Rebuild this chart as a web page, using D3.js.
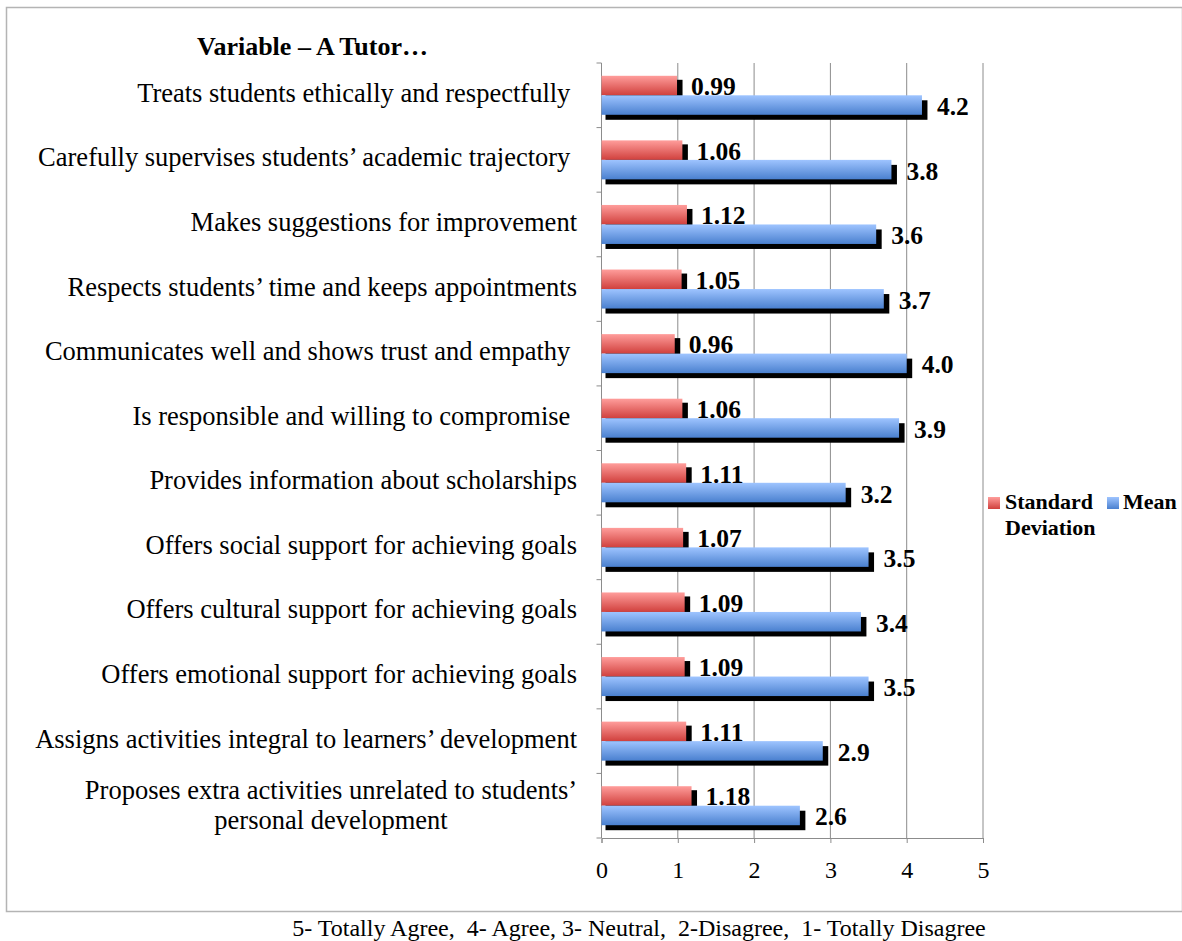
<!DOCTYPE html>
<html>
<head>
<meta charset="utf-8">
<script src="https://cdn.jsdelivr.net/npm/d3@7"></script>
<style>
  body { margin: 0; background: #fff; }
  text { font-family: "Liberation Serif", "Times New Roman", serif; white-space: pre; }
</style>
</head>
<body>
<div id="chart"></div>
<script>
// tutor evaluation chart

const width = 1182;
const height = 941;

const categories = [
  "Treats students ethically and respectfully ",
  "Carefully supervises students’ academic trajectory ",
  "Makes suggestions for improvement",
  "Respects students’ time and keeps appointments",
  "Communicates well and shows trust and empathy ",
  "Is responsible and willing to compromise ",
  "Provides information about scholarships",
  "Offers social support for achieving goals",
  "Offers cultural support for achieving goals",
  "Offers emotional support for achieving goals",
  "Assigns activities integral to learners’ development",
  "Proposes extra activities unrelated to students’|personal development"
];
const sdValues = [0.99, 1.06, 1.12, 1.05, 0.96, 1.06, 1.11, 1.07, 1.09, 1.09, 1.11, 1.18];
const sdLabels = ["0.99", "1.06", "1.12", "1.05", "0.96", "1.06", "1.11", "1.07", "1.09", "1.09", "1.11", "1.18"];
const meanValues = [4.2, 3.8, 3.6, 3.7, 4.0, 3.9, 3.2, 3.5, 3.4, 3.5, 2.9, 2.6];
const meanLabels = ["4.2", "3.8", "3.6", "3.7", "4.0", "3.9", "3.2", "3.5", "3.4", "3.5", "2.9", "2.6"];
const xTicks = [0, 1, 2, 3, 4, 5];

const svg = d3.select("#chart")
  .append("svg")
  .attr("width", width)
  .attr("height", height);

// gradients for bars
const defs = svg.append("defs");
function addGradient(id, top, bottom) {
  const g = defs.append("linearGradient")
    .attr("id", id)
    .attr("x1", 0).attr("y1", 0).attr("x2", 0).attr("y2", 1);
  g.append("stop").attr("offset", "0%").attr("stop-color", top);
  g.append("stop").attr("offset", "100%").attr("stop-color", bottom);
}
addGradient("gradSD", "#ff9d9b", "#d0403d");
addGradient("gradMean", "#9ec4ff", "#4a80cf");

// outer frame
svg.append("rect")
  .attr("x", 6.5).attr("y", 7.5)
  .attr("width", 1176).attr("height", 904)
  .attr("fill", "none")
  .attr("stroke", "#b4b4b4")
  .attr("stroke-width", 1.5);

const x = d3.scaleLinear().domain([0, 5]).range([601.5, 983]);
const y = d3.scaleBand().domain(d3.range(categories.length)).range([63, 838]);
const barH = 19.5;
const off = (y.bandwidth() - 2 * barH) / 2;

// gridlines
svg.append("g")
  .selectAll("line")
  .data(xTicks.slice(1))
  .enter()
  .append("line")
  .attr("x1", d => x(d)).attr("x2", d => x(d))
  .attr("y1", 63).attr("y2", 838)
  .attr("stroke", "#8c8c8c")
  .attr("stroke-width", 1);

// bottom axis
const xAxis = svg.append("g")
  .attr("transform", "translate(0,838)")
  .call(d3.axisBottom(x).tickValues(xTicks).tickFormat(d3.format("d")).tickSize(5).tickPadding(18));
xAxis.select(".domain").attr("stroke", "#8c8c8c");
xAxis.selectAll(".tick line").attr("stroke", "#8c8c8c");
xAxis.selectAll("text")
  .attr("font-size", "24px")
  .attr("font-family", "Liberation Serif, serif")
  .attr("fill", "#000");

// left axis line with band ticks
svg.append("line")
  .attr("x1", x(0)).attr("x2", x(0))
  .attr("y1", 63).attr("y2", 838)
  .attr("stroke", "#8c8c8c");
svg.append("g")
  .selectAll("line")
  .data(d3.range(categories.length + 1))
  .enter()
  .append("line")
  .attr("x1", x(0) - 5).attr("x2", x(0))
  .attr("y1", d => 63 + d * y.bandwidth())
  .attr("y2", d => 63 + d * y.bandwidth())
  .attr("stroke", "#8c8c8c");

// bar groups
const rows = categories.map((c, i) => ({i: i, sd: sdValues[i], mean: meanValues[i]}));

const groups = svg.append("g")
  .selectAll("g")
  .data(rows)
  .enter()
  .append("g");

// shadows first
groups.append("rect")
  .attr("x", x(0) + 4)
  .attr("y", d => y(d.i) + off + 4)
  .attr("width", d => x(d.sd) - x(0) + 1.5)
  .attr("height", barH)
  .attr("fill", "#000");
groups.append("rect")
  .attr("x", d => x(0) + 4)
  .attr("y", d => y(d.i) + off + barH + 5)
  .attr("width", d => x(d.mean) - x(0) + 1.5)
  .attr("height", barH)
  .attr("fill", "#000");

groups.append("rect")
  .attr("x", x(0))
  .attr("y", d => y(d.i) + off)
  .attr("width", d => x(d.sd) - x(0))
  .attr("height", barH)
  .attr("fill", "url(#gradSD)");
groups.append("rect")
  .attr("x", x(0))
  .attr("y", d => y(d.i) + off + barH)
  .attr("width", d => x(d.mean) - x(0))
  .attr("height", barH)
  .attr("fill", "url(#gradMean)");

// value labels
groups.append("text")
  .attr("x", d => x(d.sd) + 14)
  .attr("y", d => y(d.i) + off + barH / 2 + 9.5)
  .attr("font-size", "25.5px")
  .attr("font-weight", "bold")
  .text(d => sdLabels[d.i]);
groups.append("text")
  .attr("x", d => x(d.mean) + 15)
  .attr("y", d => y(d.i) + off + barH * 1.5 + 10)
  .attr("font-size", "25.5px")
  .attr("font-weight", "bold")
  .text(d => meanLabels[d.i]);

// category labels
const catText = svg.append("g")
  .selectAll("text")
  .data(categories)
  .enter()
  .append("text")
  .attr("text-anchor", d => d.includes("|") ? "middle" : "end")
  .attr("x", d => d.includes("|") ? 331 : 577)
  .attr("y", (d, i) => y(i) + y.bandwidth() / 2 + 6.5)
  .attr("font-size", "26.5px")
  .attr("fill", "#000");
catText.each(function(d, i) {
  const parts = d.split("|");
  const t = d3.select(this);
  if (parts.length === 1) { t.text(d); return; }
  t.attr("y", y(i) + y.bandwidth() / 2 - 7);
  parts.forEach((p, k) => {
    t.append("tspan")
      .attr("x", 331)
      .attr("dy", k === 0 ? 0 : 30)
      .text(p);
  });
});

// axis title
svg.append("text")
  .attr("x", 197).attr("y", 55)
  .attr("font-size", "26px")
  .attr("font-weight", "bold")
  .text("Variable – A Tutor…");

// legend
const legend = svg.append("g").attr("font-size", "22px").attr("font-weight", "bold");
legend.append("rect").attr("x", 988).attr("y", 497).attr("width", 12).attr("height", 12).attr("fill", "url(#gradSD)");
legend.append("text").attr("x", 1005).attr("y", 509).text("Standard");
legend.append("text").attr("x", 1005).attr("y", 535).text("Deviation");
legend.append("rect").attr("x", 1107).attr("y", 497).attr("width", 12).attr("height", 12).attr("fill", "url(#gradMean)");
legend.append("text").attr("x", 1123).attr("y", 509).text("Mean");

// footer note
svg.append("text")
  .attr("x", 639).attr("y", 936)
  .attr("text-anchor", "middle")
  .attr("font-size", "24px")
  .text("5- Totally Agree,  4- Agree, 3- Neutral,  2-Disagree,  1- Totally Disagree");
</script>
</body>
</html>
